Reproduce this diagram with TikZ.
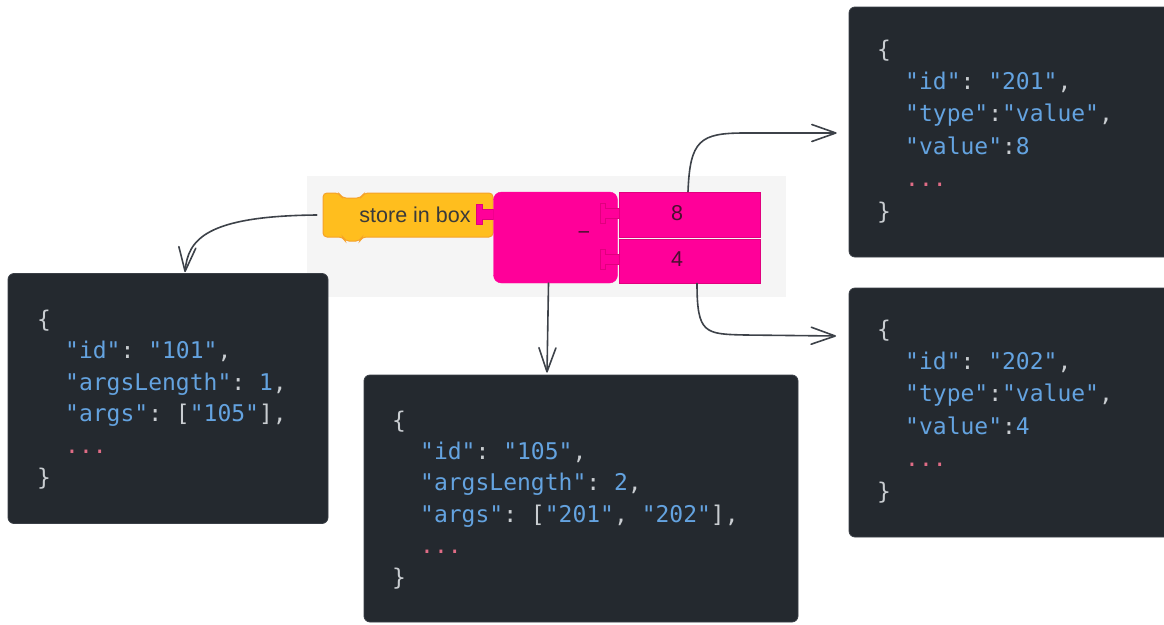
\documentclass[tikz,border=0pt]{standalone}
\usepackage{fontspec}
\setmainfont{Liberation Sans}
\newfontfamily\codefont{DejaVu Sans Mono}
\usetikzlibrary{arrows.meta}

\definecolor{jblue}{HTML}{64A3E0}
\definecolor{jgray}{HTML}{C9CDD1}
\definecolor{jpink}{HTML}{E06C86}
\definecolor{codebg}{HTML}{24292F}
\definecolor{codeedge}{HTML}{3A3F46}
\definecolor{trayfill}{HTML}{F5F5F5}
\definecolor{blockorange}{HTML}{FFBE1E}
\definecolor{blockorangeedge}{HTML}{F5A22A}
\definecolor{blockpink}{HTML}{FF0099}
\definecolor{blockpinkedge}{HTML}{E0007E}
\definecolor{blocktext}{HTML}{3A3A3A}
\definecolor{slottext}{HTML}{4A1030}
\definecolor{wire}{HTML}{3D4249}

\newcommand\jk[1]{\textcolor{jblue}{#1}}
\newcommand\jdots{\textcolor{jpink}{...}}

\tikzset{
  codebox/.style={fill=codebg, draw=codeedge, line width=0.8pt, rounded corners=6pt,
    inner sep=0pt},
  code/.style={anchor=base west, inner sep=0pt, text=jgray,
    font=\codefont\fontsize{23}{28}\selectfont\frenchspacing},
  slotbox/.style={fill=blockpink, draw=blockpinkedge, line width=0.8pt, inner sep=0pt,
    minimum width=141pt},
  blocklabel/.style={inner sep=0pt, font=\fontsize{21.5}{25}\selectfont},
  conn/.style={draw=wire, line width=1.6pt, line cap=round,
    -{Straight Barb[length=24pt,width=17pt,line width=1.6pt,round]}},
}

\begin{document}
\begin{tikzpicture}[x=1pt,y=-1pt]
\useasboundingbox (0,0) rectangle (1164,624);

% light tray behind the blocks
\fill[trayfill] (307,176) rectangle (786,297);

% "store in box" statement block
\node[inner sep=0pt, minimum width=170pt, minimum height=44pt] (store) at (408,215) {};
\draw[fill=blockorange, draw=blockorangeedge, line width=1pt, rounded corners=4pt]
  (323,215) -- (323,193) -- (339,193) -- (342,198) -- (361,198) -- (364,193)
  -- (493,193) -- (493,237) -- (362,237) -- (360,241) -- (345,241) -- (343,237)
  -- (323,237) -- cycle;
\node[blocklabel, text=blocktext] (storetxt) at (415,215) {store in box};
\draw[fill=blockpink, draw=blockpinkedge, line width=0.8pt]
  (476,204) -- (482,204) -- (482,209) -- (493,209) -- (493,219) -- (482,219)
  -- (482,224) -- (476,224) -- cycle;

% subtraction block with its two value slots
\node[fill=blockpink, draw=blockpink, rounded corners=8pt, inner sep=0pt,
  minimum width=124pt, minimum height=91pt] (op) at (555.5,237.5) {};
\node[blocklabel, text=slottext] (minus) at (584,236) {−};
\node[slotbox, minimum height=45pt] (slot8) at (689.5,214.5) {};
\node[slotbox, minimum height=44pt] (slot4) at (689.5,261) {};
\node[blocklabel, text=slottext] (val8) at (677,213) {8};
\node[blocklabel, text=slottext] (val4) at (677,259) {4};
\draw[fill=blockpink, draw=blockpinkedge, line width=0.8pt]
  (600,203) -- (605,203) -- (605,208) -- (619,208) -- (619,218) -- (605,218)
  -- (605,223) -- (600,223) -- cycle;
\draw[fill=blockpink, draw=blockpinkedge, line width=0.8pt]
  (600,249) -- (605,249) -- (605,254) -- (619,254) -- (619,264) -- (605,264)
  -- (605,269) -- (600,269) -- cycle;

% JSON records
\node[codebox, minimum width=320pt, minimum height=250pt] (boxA) at (168,398.5) {};
\node[codebox, minimum width=434pt, minimum height=247pt] (boxB) at (581,498.5) {};
\node[codebox, minimum width=330pt, minimum height=250pt] (boxC) at (1014,132) {};
\node[codebox, minimum width=330pt, minimum height=249pt] (boxD) at (1014,412.5) {};

% record 101
\node[code] (a0) at (37,327) {\{};
\node[code] (a1) at (65,358.6) {\jk{"id"}: \jk{"101"},};
\node[code] (a2) at (65,390.2) {\jk{"argsLength"}: \jk{1},};
\node[code] (a3) at (65,421.8) {\jk{"args"}: [\jk{"105"}],};
\node[code] (a4) at (65,453.4) {\jdots};
\node[code] (a5) at (37,485) {\}};

% record 105
\node[code] (b0) at (392,428) {\{};
\node[code] (b1) at (420,459.4) {\jk{"id"}: \jk{"105"},};
\node[code] (b2) at (420,490.8) {\jk{"argsLength"}: \jk{2},};
\node[code] (b3) at (420,522.2) {\jk{"args"}: [\jk{"201"}, \jk{"202"}],};
\node[code] (b4) at (420,553.6) {\jdots};
\node[code] (b5) at (392,585) {\}};

% record 201
\node[code] (c0) at (877,57) {\{};
\node[code] (c1) at (905,89.4) {\jk{"id"}: \jk{"201"},};
\node[code] (c2) at (905,121.8) {\jk{"type"}:\jk{"value"},};
\node[code] (c3) at (905,154.2) {\jk{"value"}:\jk{8}};
\node[code] (c4) at (905,186.6) {\jdots};
\node[code] (c5) at (877,219) {\}};

% record 202
\node[code] (d0) at (877,337) {\{};
\node[code] (d1) at (905,369.4) {\jk{"id"}: \jk{"202"},};
\node[code] (d2) at (905,401.8) {\jk{"type"}:\jk{"value"},};
\node[code] (d3) at (905,434.2) {\jk{"value"}:\jk{4}};
\node[code] (d4) at (905,466.6) {\jdots};
\node[code] (d5) at (877,499) {\}};

% connectors from blocks to their records
\coordinate (tipD) at (836,336);
\draw[conn] ([xshift=-6pt]store.west) .. controls (205,216) and (188,240) .. ([xshift=17pt,yshift=1pt]boxA.north);
\draw[conn] ([xshift=-7pt]op.south) -- ([xshift=-34pt,yshift=2pt]boxB.north);
\draw[conn] ([xshift=-1.5pt]slot8.north) .. controls (690,140) and (700,133) .. (745,133) -- ([xshift=-12pt,yshift=-1pt]boxC.west);
\draw[conn] ([xshift=7.5pt]slot4.south) .. controls (697,334) and (705,334) .. (745,335) -- (tipD);
\end{tikzpicture}
\end{document}
